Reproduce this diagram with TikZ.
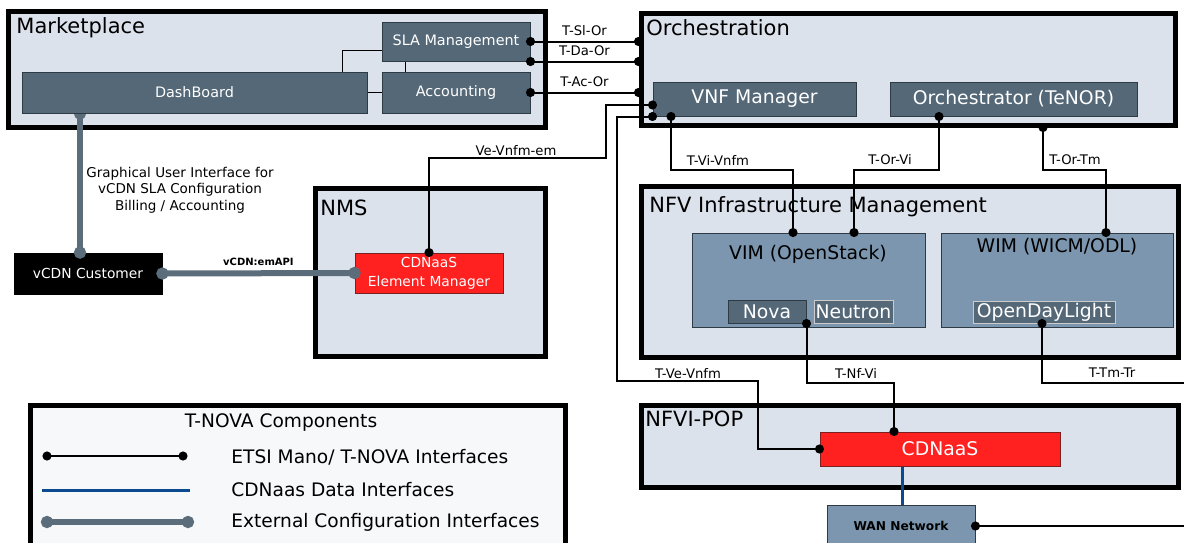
\documentclass[tikz,border=0pt]{standalone}
\usepackage{fontspec}
\setmainfont{DejaVu Sans}
\usetikzlibrary{arrows.meta,fit}
\definecolor{panelc}{HTML}{DCE2EC}
\definecolor{legc}{HTML}{F7F8FA}
\definecolor{darkc}{HTML}{546878}
\definecolor{darkline}{HTML}{2E3B44}
\definecolor{midc}{HTML}{7B96AE}
\definecolor{redc}{HTML}{FF2020}
\definecolor{redline}{HTML}{7A2020}
\definecolor{datac}{HTML}{0B4A8E}
\definecolor{extc}{HTML}{5B6D7B}
\pgfdeclarelayer{front}
\pgfsetlayers{main,front}

\begin{document}
\begin{tikzpicture}[x=0.5pt,y=-0.5pt]
        \tikzstyle{every node}=[font=\fontsize{6.6pt}{8pt}\selectfont, inner sep=0pt]
        \tikzstyle{panel}=[draw=black, line width=2.5pt, fill=panelc]
        \tikzstyle{paneltitle}=[anchor=west, font=\fontsize{10.5pt}{12pt}\selectfont]
        \tikzstyle{boxfont}=[font=\fontsize{9.4pt}{11pt}\selectfont]
        \tikzstyle{smallfont}=[font=\fontsize{7.2pt}{9pt}\selectfont]
        \tikzstyle{darkbox}=[draw=darkline, line width=0.5pt, fill=darkc, text=white, boxfont]
        \tikzstyle{midbox}=[draw=darkline, line width=0.5pt, fill=midc, boxfont]
        \tikzstyle{redbox}=[draw=redline, line width=0.5pt, fill=redc, text=white, align=center]
        \tikzstyle{link}=[line width=0.5pt]
        \tikzstyle{mano}=[line width=1pt, {Circle[length=4.5pt]}-{Circle[length=4.5pt]}, shorten <=-2.25pt, shorten >=-2.25pt]
        \tikzstyle{manoend}=[line width=1pt, {Circle[length=4.5pt]}-, shorten <=-2.25pt]
        \tikzstyle{data}=[line width=1.5pt, datac]
        \tikzstyle{ext}=[line width=3pt, extc, {Circle[length=6pt]}-{Circle[length=6pt]}, shorten <=-3pt, shorten >=-3pt]
        \tikzstyle{legfont}=[font=\fontsize{9.3pt}{11pt}\selectfont]

        \useasboundingbox (0,0) rectangle (1184,542);
        \clip (0,0) rectangle (1184,542);

        \node[panel, fit={(8,11) (545,127)}] (market) {};
        \node[paneltitle] (markett) at (16,28) {Marketplace};
        \node[darkbox, smallfont, minimum width=74pt, minimum height=19.5pt] (sla) at (456,41.5) {SLA Management};
        \begin{pgfonlayer}{front}
        \node[darkbox, smallfont, minimum width=172.5pt, minimum height=20.5pt] (dash) at (194.5,92.5) {DashBoard};
        \end{pgfonlayer}
        \node[darkbox, smallfont, minimum width=74pt, minimum height=20.5pt] (acc) at (456,92.5) {Accounting};

        \node[panel, fit={(641,13) (1175,125)}] (orch) {};
        \node[paneltitle] (orcht) at (646,28) {Orchestration};
        \node[darkbox, minimum width=101.5pt, minimum height=17pt] (vnfm) at (754.5,99) {VNF Manager};
        \node[darkbox, minimum width=123.5pt, minimum height=17pt] (tenor) at (1013.5,99) {Orchestrator (TeNOR)};

        \node[panel, fit={(641,186) (1178,357)}] (nfvim) {};
        \node[paneltitle] (nfvimt) at (649,207) {NFV Infrastructure Management};
        \node[midbox, fit={(692,233) (925,327)}] (vim) {};
        \node[boxfont] (vimt) at (808,254) {VIM (OpenStack)};
        \node[darkbox, minimum width=39pt, minimum height=11.5pt] (nova) at (767,311.5) {Nova};
        \node[darkbox, draw=gray!40, minimum width=39.5pt, minimum height=11.5pt] (neutron) at (853.5,311.5) {Neutron};
        \node[midbox, fit={(941,233) (1173,327)}] (wim) {};
        \node[boxfont] (wimt) at (1057,247) {WIM (WICM/ODL)};
        \node[darkbox, draw=gray!40, minimum width=71pt, minimum height=11pt] (odl) at (1044,312) {OpenDayLight};

        \node[panel, fit={(641,405) (1178,487)}] (nfvi) {};
        \node[paneltitle] (nfvit) at (645,419) {NFVI-POP};
        \node[redbox, boxfont, minimum width=120pt, minimum height=17pt] (cdn) at (940,449) {CDNaaS};
        \node[midbox, font=\bfseries\fontsize{6.1pt}{8pt}\selectfont, minimum width=74pt, minimum height=21pt] (wan) at (901,526) {WAN Network};

        \node[panel, fit={(315,188) (545,356)}] (nms) {};
        \node[paneltitle] (nmst) at (320,208) {NMS};
        \node[redbox, font=\fontsize{6.9pt}{9.4pt}\selectfont, minimum width=74pt, minimum height=20pt] (em) at (429,273) {CDNaaS\\Element Manager};
        \node[draw=black, fill=black, text=white, font=\fontsize{6.9pt}{8pt}\selectfont, minimum width=74pt, minimum height=20.5pt] (cust) at (88,273.5) {vCDN Customer};

        \node[align=center, font=\fontsize{6.75pt}{8.3pt}\selectfont] (gui) at (180,190) {Graphical User Interface for\\vCDN SLA Configuration\\Billing / Accounting};

        \draw[link] (sla.west |- 0,50) -| (dash.north -| 342,0);
        \draw[link] (sla.south -| 405,0) -- (acc.north -| 405,0);
        \draw[link] (dash.east) -- (acc.west);

        \draw[mano] (sla.east) -- (sla.east -| orch.west) node[midway, above=2.5pt] (slor) {T-Sl-Or};
        \draw[mano] (sla.south east) -- (sla.south east -| orch.west) node[midway, above=2.5pt] (daor) {T-Da-Or};
        \draw[mano] (acc.east) -- (acc.east -| orch.west) node[midway, above=2.5pt] (acor) {T-Ac-Or};

        \draw[mano] (vnfm.west |- 0,105) -| (606,158) -| (em.north);
        \node (vem) at (516,151) {Ve-Vnfm-em};
        \draw[mano] (vnfm.south west) -| (617,381) -| (758,449) -- (cdn.west);
        \node (tvevnfm) at (688,374) {T-Ve-Vnfm};
        \draw[mano] (vnfm.south -| 671,0) |- (793,170) -- (vim.north -| 793,0);
        \node (tvivnfm) at (718,160) {T-Vi-Vnfm};
        \draw[mano] (tenor.south -| 939,0) |- (854,170) -- (vim.north -| 854,0);
        \node (torvi) at (890,160) {T-Or-Vi};
        \draw[mano] (orch.south -| 1043,0) |- (1106,170) -- (wim.north -| 1106,0);
        \node (tortm) at (1075,160) {T-Or-Tm};
        \draw[mano] (nova.south east) |- (894,383) -- (cdn.north -| 894,0);
        \node (tnfvi) at (856,373) {T-Nf-Vi};
        \coordinate (trout) at (1184,383);
        \draw[manoend] (odl.south -| 1042,0) |- (trout);
        \node (ttmtr) at (1112,373) {T-Tm-Tr};
        \coordinate (wanout) at (1184,526);
        \draw[manoend] (wan.east) -- (wan.east -| wanout);
        \draw[data] (cdn.south -| 902,0) -- (wan.north -| 902,0);

        \draw[ext] (dash.south -| 80,0) -- (cust.north -| 80,0);
        \draw[ext] (cust.east) -- (em.west) node[midway, above=2.5pt, text=black, font=\bfseries\fontsize{5pt}{6pt}\selectfont] (emapi) {vCDN:emAPI};

        \node[panel, fill=legc, fit={(30,405) (565,548)}] (legend) {};
        \node[legfont] (legendt) at (281,423) {T-NOVA Components};
        \coordinate (l1a) at (47,456);
        \coordinate (l1b) at (183,456);
        \draw[mano] (l1a) -- (l1b);
        \node[legfont, anchor=west] (leg1) at (231,457) {ETSI Mano/ T-NOVA Interfaces};
        \coordinate (l2a) at (42,490);
        \coordinate (l2b) at (190,490);
        \draw[data] (l2a) -- (l2b);
        \node[legfont, anchor=west] (leg2) at (231,490) {CDNaas Data Interfaces};
        \coordinate (l3a) at (47,522);
        \coordinate (l3b) at (188,522);
        \draw[ext] (l3a) -- (l3b);
        \node[legfont, anchor=west] (leg3) at (231,522) {External Configuration Interfaces};
\end{tikzpicture}
\end{document}
